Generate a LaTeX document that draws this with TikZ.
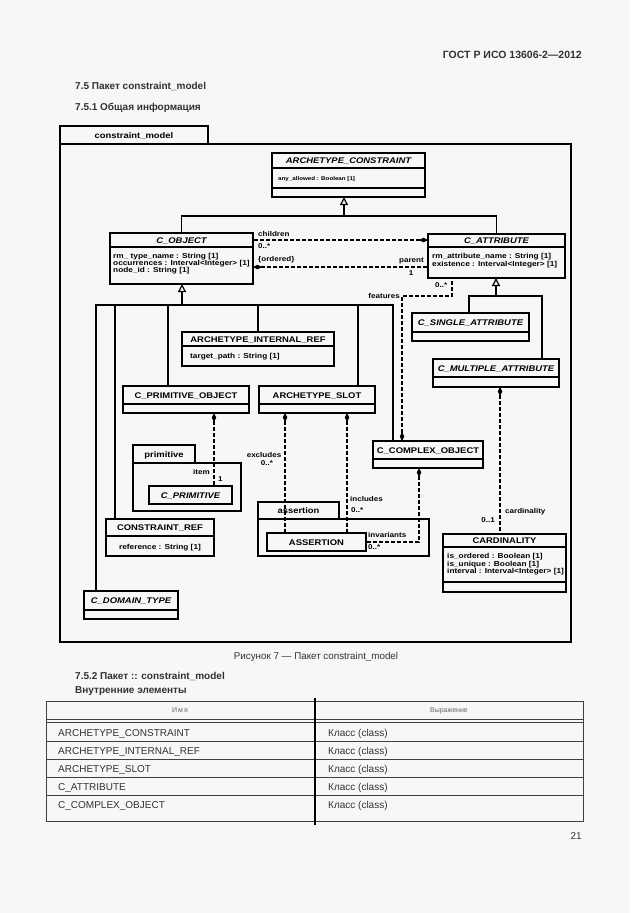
\documentclass[tikz,border=0pt]{standalone}
\usepackage{fontspec}
\setmainfont{Liberation Sans}
\newfontfamily\dfont[FakeStretch=1.15]{Liberation Sans}
\usetikzlibrary{arrows.meta}
\definecolor{pagebg}{RGB}{247,247,247}
\definecolor{txtgray}{RGB}{50,50,50}
\newcommand\ttlfont{\dfont\bfseries\fontsize{8.2}{9}\selectfont}
\newcommand\attfont{\dfont\bfseries\fontsize{7.2}{7.5}\selectfont}
\newcommand\lblfont{\dfont\bfseries\fontsize{7}{7.5}\selectfont}
\newcommand\cls[6]{%
  \pgfmathsetmacro\cw{#4-#2}\pgfmathsetmacro\ch{#5-#3}%
  \pgfmathsetmacro\cx{(#2+#4)/2}\pgfmathsetmacro\cy{(#3+#5)/2}%
  \node[frame, minimum width=\cw pt, minimum height=\ch pt] (#1) at (\cx,\cy) {};
  \foreach \s in {#6} {\draw[sepl] (#2,\s) -- (#4,\s);}
}
\begin{document}
\begin{tikzpicture}[x=1pt,y=-1pt,
  frame/.style={draw=black, line width=1.3pt, inner sep=0pt, outer sep=0pt},
  pkgframe/.style={draw=black, line width=1.5pt, inner sep=0pt, outer sep=0pt},
  sepl/.style={line width=1.1pt},
  ttl/.style={anchor=base, font=\ttlfont, inner sep=0pt},
  att/.style={anchor=base west, font=\attfont, inner sep=0pt},
  lbl/.style={anchor=base west, font=\lblfont, inner sep=0pt},
  gen/.style={line width=1.2pt},
  gentip/.style={gen, -{Triangle[open, width=8pt, length=8pt]}},
  assoc/.style={line width=1.1pt, dash pattern=on 4pt off 2pt},
  own/.style={assoc, {Diamond[width=4.5pt,length=9pt]}-},
  ptxt/.style={inner sep=0pt, text=txtgray},
  tline/.style={line width=0.6pt, draw=black!75}
]
\fill[pagebg] (0,0) rectangle (630,913);
\useasboundingbox (0,0) rectangle (630,913);

% ---------- page text ----------
\node[ptxt, anchor=base east, font=\bfseries\fontsize{10.5}{12}\selectfont] (hdr) at (582,58) {ГОСТ Р ИСО 13606-2—2012};
\node[ptxt, anchor=base west, font=\bfseries\fontsize{10}{12}\selectfont] (s75) at (75,89) {7.5 Пакет constraint\_model};
\node[ptxt, anchor=base west, font=\bfseries\fontsize{10}{12}\selectfont] (s751) at (75,110) {7.5.1 Общая информация};

% ---------- packages ----------
\node[pkgframe, minimum width=511pt, minimum height=498pt] (pkg) at (315.5,393) {};
\node[pkgframe, minimum width=148pt, minimum height=18pt] (pkgtab) at (134,135) {};
\node[ttl, font=\ttlfont] (pkgname) at (134,138) {constraint\_model};

\node[frame, minimum width=108pt, minimum height=48pt] (primpkg) at (187,487) {};
\node[frame, minimum width=62pt, minimum height=18pt] (primtab) at (164,454) {};
\node[ttl] (primname) at (164,457) {primitive};

\node[frame, minimum width=171pt, minimum height=37pt] (asspkg) at (343.5,537.5) {};
\node[frame, minimum width=81pt, minimum height=17pt] (asstab) at (298.5,510.5) {};
\node[ttl] (assname) at (298.5,513.5) {assertion};

% ---------- classes ----------
\cls{ac}{272}{153}{425}{197}{168,188}
\node[ttl] (act) at (348.5,163.5) {\itshape ARCHETYPE\_CONSTRAINT};
\node[anchor=base west, inner sep=0pt, font=\dfont\bfseries\fontsize{5.4}{7}\selectfont] (aca1) at (278,180.5) {any\_allowed : Boolean [1]};

\cls{cobj}{110}{233}{253}{284}{247}
\node[ttl] (cobjt) at (181.5,243) {\itshape C\_OBJECT};
\node[att] (cobja1) at (113,258) {rm\_ type\_name : String [1]};
\node[att] (cobja2) at (113,265) {occurrences : Interval<Integer> [1]};
\node[att] (cobja3) at (113,272) {node\_id : String [1]};

\cls{cattr}{428}{234}{565}{278}{247}
\node[ttl] (cattrt) at (496.5,243.5) {\itshape C\_ATTRIBUTE};
\node[att] (cattra1) at (432,258) {rm\_attribute\_name : String [1]};
\node[att] (cattra2) at (432,266) {existence : Interval<Integer> [1]};

\cls{air}{182}{332}{334}{366}{346}
\node[ttl] (airt) at (258,342) {ARCHETYPE\_INTERNAL\_REF};
\node[att] (aira1) at (190,358.5) {target\_path : String [1]};

\cls{cpo}{123}{386}{249}{413}{404}
\node[ttl] (cpot) at (186,398) {C\_PRIMITIVE\_OBJECT};

\cls{aslot}{259}{386}{375}{413}{404}
\node[ttl] (aslott) at (317,398) {ARCHETYPE\_SLOT};

\cls{csa}{412}{313}{529}{341}{332}
\node[ttl] (csat) at (470.5,325.5) {\itshape C\_SINGLE\_ATTRIBUTE};

\cls{cma}{433}{359}{559}{387}{377}
\node[ttl] (cmat) at (496,371) {\itshape C\_MULTIPLE\_ATTRIBUTE};

\cls{cco}{373}{441}{483}{468}{459}
\node[ttl] (ccot) at (428,453) {C\_COMPLEX\_OBJECT};

\cls{card}{443}{534}{566}{592}{547,582}
\node[ttl] (cardt) at (504.5,543.5) {CARDINALITY};
\node[att] (carda1) at (447,558.5) {is\_ordered : Boolean [1]};
\node[att] (carda2) at (447,566) {is\_unique : Boolean [1]};
\node[att] (carda3) at (447,573.5) {interval : Interval<Integer> [1]};

\cls{cref}{106}{519}{214}{556}{536}
\node[ttl] (creft) at (160,530.5) {CONSTRAINT\_REF};
\node[att, anchor=base] (crefa1) at (160,549.5) {reference : String [1]};

\cls{cdt}{84}{591}{178}{619}{610}
\node[ttl] (cdtt) at (131,603.5) {\itshape C\_DOMAIN\_TYPE};

\node[frame, minimum width=83pt, minimum height=18pt] (cprim) at (190.5,495) {};
\node[ttl] (cprimt) at (190.5,498) {\itshape C\_PRIMITIVE};

\node[frame, minimum width=99pt, minimum height=18pt] (asrt) at (316.5,542) {};
\node[ttl] (asrtt) at (316.5,545) {ASSERTION};

% ---------- generalizations ----------
\coordinate (acb) at (344,216);
\draw[gentip] (acb) -- (acb |- ac.south);
\draw[gen] (cobj.north) -- (cobj.north |- acb) -- (cattr.north |- acb) -- (cattr.north);

\coordinate (ob) at (182,305);
\coordinate (b1) at (96,305);
\coordinate (b2) at (115,305);
\coordinate (b3) at (168,305);
\coordinate (b4) at (258,305);
\coordinate (b5) at (358,305);
\coordinate (b6) at (393,305);
\draw[gentip] (ob) -- (ob |- cobj.south);
\draw[gen] (cdt.north -| b1) -- (b1) -- (b6) -- (cco.north -| b6);
\draw[gen] (b2) -- (cref.north -| b2);
\draw[gen] (b3) -- (cpo.north -| b3);
\draw[gen] (b4) -- (air.north -| b4);
\draw[gen] (b5) -- (aslot.north -| b5);

\coordinate (ab) at (496,296);
\coordinate (s1) at (469,296);
\coordinate (s2) at (542,296);
\draw[gentip] (ab) -- (ab |- cattr.south);
\draw[gen] (csa.north -| s1) -- (s1) -- (s2) -- (cma.north -| s2);

% ---------- associations ----------
\coordinate (ych) at (0,240);
\coordinate (ypa) at (0,267);
\draw[own] (cattr.west |- ych) -- (cobj.east |- ych);
\draw[own] (cobj.east |- ypa) -- (cattr.west |- ypa);

\coordinate (f1) at (402,296);
\coordinate (f2) at (452,296);
\draw[own] (cco.north -| f1) -- (f1) -- (f2) -- (cattr.south -| f2);

\coordinate (ix) at (214,0);
\draw[own] (cpo.south -| ix) -- (cprim.north -| ix);
\coordinate (exx) at (285,0);
\coordinate (inx) at (347,0);
\draw[own] (aslot.south -| exx) -- (asrt.north -| exx);
\draw[own] (aslot.south -| inx) -- (asrt.north -| inx);

\coordinate (iv) at (419,542);
\draw[own] (cco.south -| iv) -- (iv) -- (asrt.east |- iv);

\coordinate (cdx) at (500,0);
\draw[own] (cma.south -| cdx) -- (card.north -| cdx);

% ---------- labels ----------
\node[lbl] (lch) at (258,236) {children};
\node[lbl] (lch2) at (258,248.5) {0..*};
\node[lbl] (lch3) at (258,261) {\{ordered\}};
\node[lbl, anchor=base east] (lpa) at (424,262.5) {parent};
\node[lbl, anchor=base] (lpa2) at (411,275.5) {1};
\node[lbl] (lfe2) at (435,287) {0..*};
\node[lbl, anchor=base east] (lfe) at (400,298.5) {features};
\node[lbl, anchor=base east] (lit) at (210,474.5) {item};
\node[lbl] (lit2) at (218,481) {1};
\node[lbl, anchor=base] (lex) at (264,457.5) {excludes};
\node[lbl, anchor=base] (lex2) at (267,465.5) {0..*};
\node[lbl] (lin) at (350,501.5) {includes};
\node[lbl] (lin2) at (351,512.5) {0..*};
\node[lbl] (liv) at (368,537.5) {invariants};
\node[lbl] (liv2) at (368,549.5) {0..*};
\node[lbl] (lcd) at (505,513.5) {cardinality};
\node[lbl, anchor=base east] (lcd2) at (495,522.5) {0..1};

% ---------- caption and table ----------
\node[ptxt, anchor=base, font=\fontsize{9.8}{12}\selectfont] (cap) at (316,659) {Рисунок 7 — Пакет constraint\_model};
\node[ptxt, anchor=base west, font=\bfseries\fontsize{10}{12}\selectfont] (s752) at (75,679) {7.5.2 Пакет :: constraint\_model};
\node[ptxt, anchor=base west, font=\bfseries\fontsize{10}{12}\selectfont] (s752b) at (75,693) {Внутренние элементы};

\draw[tline] (46,701) rectangle (583,821);
\draw[tline] (46,719) -- (583,719);
\draw[tline] (46,722) -- (583,722);
\foreach \yy in {741,759,777,795} {\draw[tline] (46,\yy) -- (583,\yy);}
\draw[line width=1.1pt] (315,698) -- (315,825);

\node[ptxt, anchor=base, font=\fontsize{7}{9}\selectfont, text=black!60] (th1) at (180,712.5) {И\,м\,я};
\node[ptxt, anchor=base, font=\fontsize{7}{9}\selectfont, text=black!60] (th2) at (449,712.5) {Выражение};

\foreach \nm/\yy [count=\i] in {ARCHETYPE\_CONSTRAINT/736, ARCHETYPE\_INTERNAL\_REF/754, ARCHETYPE\_SLOT/772, C\_ATTRIBUTE/790, C\_COMPLEX\_OBJECT/808} {
  \node[ptxt, anchor=base west, font=\fontsize{10}{11}\selectfont] (tn\i) at (58,\yy) {\nm};
  \node[ptxt, anchor=base west, font=\fontsize{10}{11}\selectfont] (tv\i) at (328,\yy) {Класс (class)};
}

\node[ptxt, anchor=base east, font=\fontsize{10}{12}\selectfont] (pgno) at (582,839) {21};
\end{tikzpicture}
\end{document}
